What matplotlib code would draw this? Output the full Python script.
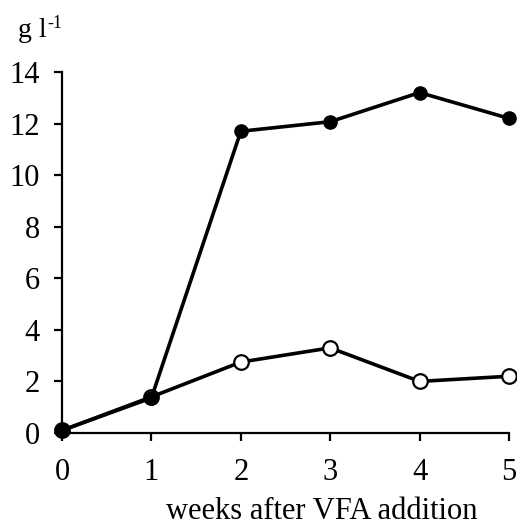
import matplotlib.pyplot as plt
import numpy as np

plt.rcParams['font.family'] = 'Liberation Serif'

weeks = [0, 1, 2, 3, 4, 5]
filled = [0.1, 1.36, 11.7, 12.07, 13.2, 12.2]
hollow = [0.1, 1.4, 2.75, 3.3, 2.0, 2.2]
y_ticks = [0, 2, 4, 6, 8, 10, 12, 14]

fig = plt.figure(figsize=(5.17, 5.29), dpi=100)
ax = fig.add_axes([0.12, 0.1815, 0.8645, 0.6825])

ax.plot(weeks, hollow, c='k', lw=2.6, marker='o', ms=10.5, mfc='white', mec='k', mew=1.6, clip_on=False, zorder=3)
ax.plot(weeks, filled, c='k', lw=2.6, marker='o', ms=9.5, mfc='k', mec='k', clip_on=False, zorder=4)

ax.set_xlim(0, 5)
ax.set_ylim(0, 14)
ax.set_xticks(weeks)
ax.set_yticks(y_ticks)
ax.spines['top'].set_visible(False)
ax.spines['right'].set_visible(False)
ax.spines['left'].set_linewidth(1.6)
ax.spines['bottom'].set_linewidth(1.6)
ax.tick_params(direction='out', length=6, width=1.6, labelsize=22)
ax.tick_params(axis='x', pad=12)
ax.tick_params(axis='y', pad=10)

ax.text(0.58, -0.178, 'weeks after VFA addition', transform=ax.transAxes, ha='center', va='top', fontsize=22)

# unit label: "g l" with a small raised "-1"
unit = fig.text(0.034, 0.930, 'g l', ha='left', va='baseline', fontsize=20)
ax.annotate('-1', xy=(1, 1), xycoords=unit, xytext=(0.5, 2), textcoords='offset points',
            ha='left', va='top', fontsize=13, annotation_clip=False)

fig.savefig('out.png', dpi=100)
